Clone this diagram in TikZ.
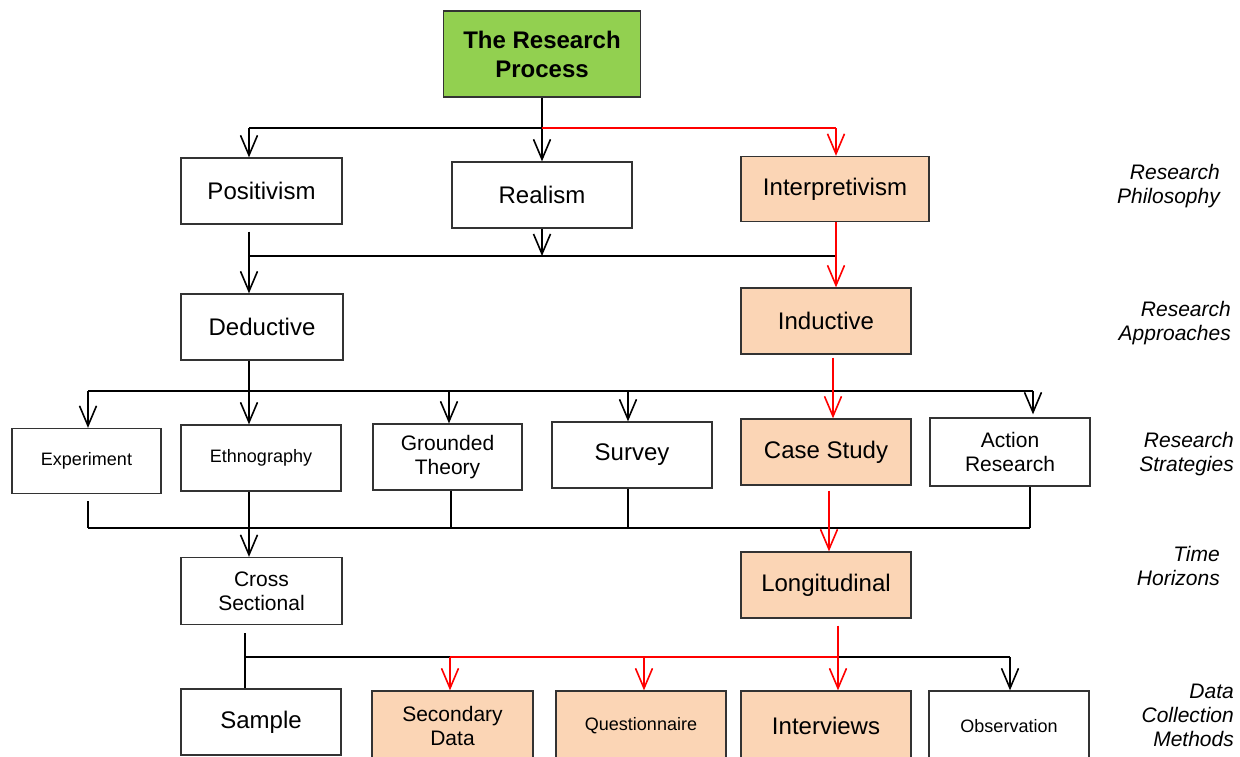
\documentclass[tikz,border=0pt]{standalone}
\usepackage{fontspec}
\setmainfont{Liberation Sans}
\usetikzlibrary{arrows.meta}
\definecolor{grn}{HTML}{92D050}
\definecolor{pch}{HTML}{FBD5B5}
\definecolor{rline}{HTML}{FF0000}
\begin{document}
\begin{tikzpicture}[x=1pt,y=-1pt,
  bx/.style 2 args={draw=black!80, line width=1.3pt, fill=white, minimum width=#1pt, minimum height=#2pt, inner sep=0pt, align=center, font=\fontsize{24}{29}\selectfont},
  pe/.style={fill=pch},
  med/.style={font=\fontsize{21}{24}\selectfont},
  sml/.style={font=\fontsize{18}{22}\selectfont},
  lab/.style={anchor=east, align=right, inner sep=0pt, font=\fontsize{21}{24}\selectfont\itshape},
  blk/.style={draw=black, line width=2.2pt},
  rd/.style={draw=rline, line width=1.8pt},
  arr/.style={-{Straight Barb[length=20pt,width=17pt,line width=1.6pt]}}
]
\useasboundingbox (0,0) rectangle (1240,756);

% nodes
\node[bx={197}{86}, fill=grn, font=\fontsize{24}{29}\selectfont\bfseries] (rp) at (542,54) {The Research\\Process};
\node[bx={161}{66}] (pos) at (261.5,191) {Positivism};
\node[bx={180}{66}] (real) at (542,195) {Realism};
\node[bx={188}{65}, pe] (intp) at (835,189) {Interpretivism};
\node[bx={162}{66}] (ded) at (262,327) {Deductive};
\node[bx={170}{66}, pe] (ind) at (826,321) {Inductive};
\node[bx={149}{65}, sml] (exp) at (86.5,461) {Experiment};
\node[bx={160}{66}, sml] (eth) at (261,458) {Ethnography};
\node[bx={149}{66}, med] (gt) at (447.5,457) {Grounded\\Theory};
\node[bx={160}{66}] (sur) at (632,455) {Survey};
\node[bx={170}{66}, pe] (cs) at (826,452) {Case Study};
\node[bx={160}{68}, med] (ar) at (1010,452) {Action\\Research};
\node[bx={161}{67}, med] (cross) at (261.5,591) {Cross\\Sectional};
\node[bx={170}{66}, pe] (long) at (826,585) {Longitudinal};
\node[bx={160}{66}] (samp) at (261,722) {Sample};
\node[bx={161}{70}, pe, med] (sec) at (452.5,726) {Secondary\\Data};
\node[bx={170}{70}, pe, sml] (quest) at (641,726) {Questionnaire};
\node[bx={170}{70}, pe] (intv) at (826,726) {Interviews};
\node[bx={160}{70}, sml] (obs) at (1009,726) {Observation};

% labels
\node[lab] (l1) at (1220,186) {Research\\Philosophy};
\node[lab] (l2) at (1231,323) {Research\\Approaches};
\node[lab] (l3) at (1234,454) {Research\\Strategies};
\node[lab] (l4) at (1220,566) {Time\\Horizons};
\node[lab] (l5) at (1234,715) {Data\\Collection\\Methods};

% level 1
\coordinate (t0) at (542,128);
\coordinate (tL) at (249,128);
\coordinate (tR) at (836,128);
\draw[blk] (rp.south) -- (t0);
\draw[blk,arr] (t0) -- (real.north);
\draw[blk] (t0) -- (tL);
\draw[blk,arr] (tL) -- (tL |- pos.north);
\draw[rd] (t0) -- (tR);
\draw[rd,arr] (tR) -- (tR |- intp.north);

% level 2
\coordinate (aL) at (249,256);
\coordinate (aR) at (836,256);
\draw[blk] (aL) -- (aR);
\draw[blk,arr] ([yshift=-7pt]pos.south -| aL) -- (aL |- ded.north);
\draw[blk,arr] (real.south) -- (real.south |- aL);
\draw[rd,arr] (intp.south -| aR) -- (aR |- ind.north);

% level 3
\coordinate (sL) at (88,391);
\coordinate (sR) at (1033,391);
\coordinate (sG) at (449,391);
\coordinate (sS) at (628,391);
\coordinate (sC) at (833,391);
\draw[blk] (sL) -- (sR);
\draw[blk,arr] (ded.south -| aL) -- (aL |- eth.north);
\draw[blk,arr] (sL) -- (sL |- exp.north);
\draw[blk,arr] (sG) -- (sG |- gt.north);
\draw[blk,arr] (sS) -- (sS |- sur.north);
\draw[blk,arr] (sR) -- ([yshift=3pt]sR |- ar.north);
\draw[rd,arr] ([yshift=-3pt]ind.south -| sC) -- (sC |- cs.north);

% level 4
\coordinate (hL) at (88,528);
\coordinate (hR) at (1030,528);
\coordinate (hG) at (451,528);
\coordinate (hS) at (628,528);
\coordinate (hC) at (829,528);
\draw[blk] (hL) -- (hR);
\draw[blk] ([yshift=-7pt]exp.south -| hL) -- (hL);
\draw[blk,arr] (eth.south -| aL) -- (aL |- cross.north);
\draw[blk] (gt.south -| hG) -- (hG);
\draw[blk] (sur.south -| hS) -- (hS);
\draw[blk] (ar.south -| hR) -- (hR);
\draw[rd,arr] ([yshift=-5pt]cs.south -| hC) -- (hC |- long.north);

% level 5
\coordinate (dL) at (245,657);
\coordinate (dS) at (450,657);
\coordinate (dQ) at (644,657);
\coordinate (dI) at (838,657);
\coordinate (dO) at (1010,657);
\draw[blk] (dL) -- (dS);
\draw[blk] (dI) -- (dO);
\draw[blk] ([yshift=-8pt]cross.south -| dL) -- (dL |- samp.north);
\draw[blk,arr] (dO) -- (dO |- obs.north);
\draw[rd] (dS) -- (dI);
\draw[rd,arr] (dS) -- (dS |- sec.north);
\draw[rd,arr] (dQ) -- (dQ |- quest.north);
\draw[rd,arr] ([yshift=-7pt]long.south -| dI) -- (dI |- intv.north);
\end{tikzpicture}
\end{document}
